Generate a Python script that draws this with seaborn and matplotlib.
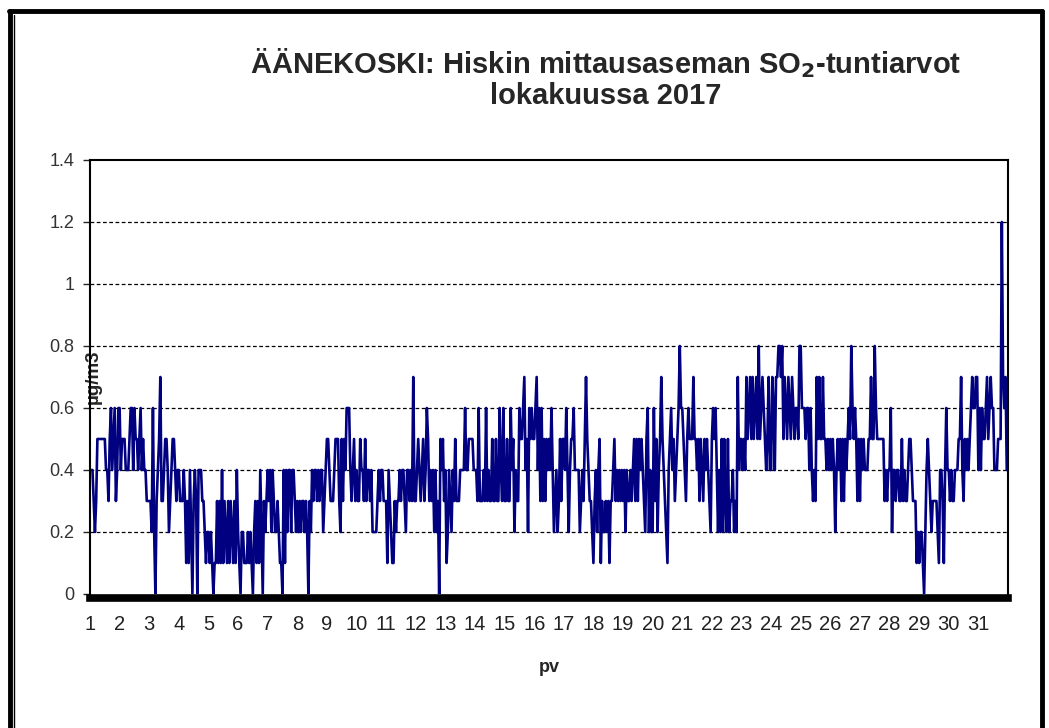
import numpy as np
import pandas as pd
import matplotlib
matplotlib.use("Agg")
import matplotlib.pyplot as plt
import seaborn as sns
from matplotlib.lines import Line2D

# SO2 hourly values (ug/m3), October 2017, 24 values per day
so2_values = [
    0.4, 0.4, 0.4, 0.3, 0.2, 0.3, 0.5, 0.5, 0.5, 0.5, 0.5, 0.5, 0.5, 0.4, 0.4, 0.3, 0.5, 0.6, 0.4, 0.5, 0.6, 0.3, 0.4, 0.6,
    0.6, 0.4, 0.5, 0.5, 0.5, 0.4, 0.4, 0.4, 0.5, 0.6, 0.6, 0.4, 0.6, 0.5, 0.5, 0.4, 0.5, 0.6, 0.4, 0.5, 0.4, 0.4, 0.3, 0.3,
    0.3, 0.3, 0.2, 0.6, 0.2, 0.0, 0.3, 0.4, 0.5, 0.7, 0.3, 0.3, 0.4, 0.5, 0.5, 0.4, 0.2, 0.3, 0.4, 0.5, 0.5, 0.4, 0.3, 0.4,
    0.4, 0.3, 0.3, 0.3, 0.4, 0.3, 0.1, 0.3, 0.1, 0.4, 0.2, 0.0, 0.3, 0.4, 0.3, 0.0, 0.4, 0.4, 0.4, 0.3, 0.3, 0.2, 0.1, 0.2,
    0.2, 0.1, 0.2, 0.1, 0.0, 0.1, 0.1, 0.3, 0.1, 0.3, 0.1, 0.4, 0.1, 0.3, 0.2, 0.1, 0.3, 0.1, 0.3, 0.2, 0.1, 0.3, 0.1, 0.4,
    0.2, 0.1, 0.0, 0.2, 0.2, 0.1, 0.1, 0.1, 0.2, 0.1, 0.2, 0.1, 0.0, 0.2, 0.3, 0.1, 0.3, 0.1, 0.4, 0.2, 0.0, 0.3, 0.2, 0.3,
    0.4, 0.3, 0.4, 0.2, 0.4, 0.3, 0.2, 0.2, 0.3, 0.2, 0.1, 0.1, 0.0, 0.4, 0.1, 0.4, 0.2, 0.4, 0.4, 0.2, 0.4, 0.4, 0.3, 0.2,
    0.3, 0.2, 0.3, 0.2, 0.3, 0.3, 0.2, 0.3, 0.2, 0.0, 0.3, 0.2, 0.4, 0.3, 0.4, 0.4, 0.3, 0.4, 0.3, 0.4, 0.4, 0.2, 0.3, 0.4,
    0.5, 0.5, 0.4, 0.3, 0.3, 0.3, 0.4, 0.5, 0.5, 0.5, 0.3, 0.2, 0.5, 0.3, 0.5, 0.4, 0.6, 0.6, 0.6, 0.4, 0.3, 0.4, 0.5, 0.3,
    0.4, 0.3, 0.3, 0.5, 0.4, 0.4, 0.3, 0.5, 0.3, 0.4, 0.4, 0.3, 0.4, 0.2, 0.2, 0.2, 0.2, 0.3, 0.4, 0.3, 0.4, 0.4, 0.3, 0.3,
    0.3, 0.1, 0.4, 0.3, 0.2, 0.1, 0.1, 0.3, 0.2, 0.3, 0.3, 0.4, 0.3, 0.4, 0.4, 0.3, 0.2, 0.4, 0.4, 0.3, 0.4, 0.3, 0.7, 0.3,
    0.3, 0.4, 0.5, 0.4, 0.3, 0.4, 0.5, 0.3, 0.4, 0.6, 0.5, 0.3, 0.4, 0.3, 0.4, 0.2, 0.4, 0.2, 0.3, 0.0, 0.5, 0.4, 0.5, 0.3,
    0.4, 0.1, 0.2, 0.4, 0.3, 0.2, 0.4, 0.3, 0.5, 0.3, 0.3, 0.3, 0.4, 0.4, 0.4, 0.4, 0.6, 0.4, 0.4, 0.5, 0.5, 0.5, 0.5, 0.4,
    0.4, 0.4, 0.3, 0.6, 0.3, 0.3, 0.3, 0.4, 0.3, 0.6, 0.3, 0.4, 0.3, 0.3, 0.5, 0.3, 0.3, 0.5, 0.3, 0.3, 0.6, 0.4, 0.3, 0.6,
    0.3, 0.3, 0.5, 0.3, 0.3, 0.6, 0.4, 0.5, 0.2, 0.4, 0.3, 0.3, 0.6, 0.5, 0.5, 0.6, 0.7, 0.4, 0.5, 0.2, 0.6, 0.5, 0.6, 0.5,
    0.5, 0.6, 0.7, 0.4, 0.6, 0.3, 0.6, 0.3, 0.5, 0.3, 0.5, 0.4, 0.5, 0.4, 0.6, 0.4, 0.2, 0.3, 0.4, 0.2, 0.3, 0.5, 0.3, 0.5,
    0.5, 0.4, 0.6, 0.4, 0.2, 0.4, 0.5, 0.5, 0.6, 0.4, 0.4, 0.4, 0.4, 0.2, 0.3, 0.4, 0.3, 0.5, 0.7, 0.5, 0.4, 0.3, 0.3, 0.2,
    0.1, 0.3, 0.4, 0.2, 0.4, 0.5, 0.1, 0.3, 0.2, 0.2, 0.3, 0.2, 0.3, 0.1, 0.3, 0.3, 0.4, 0.5, 0.3, 0.4, 0.3, 0.4, 0.3, 0.4,
    0.3, 0.4, 0.2, 0.4, 0.3, 0.3, 0.4, 0.3, 0.4, 0.5, 0.3, 0.5, 0.3, 0.5, 0.4, 0.5, 0.4, 0.3, 0.2, 0.5, 0.6, 0.2, 0.4, 0.2,
    0.2, 0.6, 0.3, 0.5, 0.2, 0.4, 0.5, 0.7, 0.5, 0.4, 0.3, 0.2, 0.1, 0.4, 0.5, 0.6, 0.4, 0.5, 0.3, 0.4, 0.5, 0.6, 0.8, 0.6,
    0.6, 0.5, 0.4, 0.3, 0.5, 0.6, 0.5, 0.5, 0.5, 0.7, 0.5, 0.5, 0.4, 0.5, 0.3, 0.5, 0.4, 0.3, 0.5, 0.4, 0.5, 0.4, 0.3, 0.2,
    0.5, 0.6, 0.5, 0.6, 0.4, 0.2, 0.4, 0.2, 0.5, 0.2, 0.5, 0.3, 0.2, 0.5, 0.2, 0.3, 0.3, 0.4, 0.2, 0.3, 0.2, 0.7, 0.4, 0.5,
    0.5, 0.4, 0.5, 0.4, 0.7, 0.5, 0.6, 0.7, 0.5, 0.7, 0.5, 0.6, 0.7, 0.5, 0.8, 0.5, 0.6, 0.7, 0.6, 0.5, 0.4, 0.5, 0.7, 0.4,
    0.4, 0.7, 0.6, 0.4, 0.7, 0.7, 0.8, 0.8, 0.7, 0.8, 0.5, 0.7, 0.6, 0.5, 0.7, 0.6, 0.5, 0.7, 0.6, 0.5, 0.6, 0.6, 0.5, 0.8,
    0.8, 0.6, 0.6, 0.6, 0.5, 0.6, 0.6, 0.4, 0.6, 0.4, 0.3, 0.4, 0.3, 0.7, 0.5, 0.7, 0.5, 0.5, 0.7, 0.5, 0.5, 0.4, 0.5, 0.4,
    0.5, 0.4, 0.5, 0.4, 0.2, 0.4, 0.5, 0.4, 0.5, 0.3, 0.5, 0.3, 0.5, 0.4, 0.5, 0.6, 0.5, 0.8, 0.6, 0.5, 0.6, 0.5, 0.3, 0.5,
    0.3, 0.5, 0.4, 0.5, 0.4, 0.4, 0.4, 0.5, 0.5, 0.7, 0.5, 0.5, 0.8, 0.6, 0.5, 0.5, 0.5, 0.5, 0.5, 0.5, 0.3, 0.4, 0.3, 0.4,
    0.4, 0.6, 0.2, 0.4, 0.4, 0.3, 0.4, 0.4, 0.3, 0.3, 0.5, 0.3, 0.4, 0.3, 0.3, 0.4, 0.5, 0.5, 0.4, 0.3, 0.3, 0.3, 0.1, 0.2,
    0.1, 0.2, 0.2, 0.1, 0.0, 0.2, 0.4, 0.5, 0.4, 0.3, 0.2, 0.3, 0.3, 0.3, 0.3, 0.2, 0.1, 0.4, 0.4, 0.3, 0.1, 0.4, 0.6, 0.4,
    0.4, 0.3, 0.4, 0.3, 0.3, 0.4, 0.4, 0.4, 0.5, 0.5, 0.7, 0.4, 0.3, 0.5, 0.4, 0.5, 0.4, 0.5, 0.6, 0.7, 0.6, 0.6, 0.7, 0.7,
    0.4, 0.6, 0.4, 0.6, 0.5, 0.5, 0.6, 0.7, 0.5, 0.6, 0.7, 0.6, 0.6, 0.4, 0.4, 0.4, 0.5, 0.5, 0.5, 1.2, 0.7, 0.6, 0.7, 0.4,
]
day_ticks = list(range(1, 32))
y_ticks = [0, 0.2, 0.4, 0.6, 0.8, 1.0, 1.2, 1.4]
y_tick_labels = ["0", "0.2", "0.4", "0.6", "0.8", "1", "1.2", "1.4"]

df = pd.DataFrame({"hour": np.arange(len(so2_values)), "so2": so2_values})
df["day"] = 1 + df["hour"] / 24.0

sns.set_style("white")
plt.rcParams["font.family"] = ["Liberation Sans", "DejaVu Sans"]

fig = plt.figure(figsize=(10.49, 7.28), dpi=100)
W, H = 1049, 728
ax = fig.add_axes([90 / W, (H - 594) / H, (1008 - 90) / W, (594 - 160) / H])

sns.lineplot(data=df, x="day", y="so2", color="#000080", linewidth=1.9, ax=ax)

ax.set_xlim(1, 1 + len(so2_values) / 24.0)
ax.set_ylim(0, 1.4)
ax.set_yticks(y_ticks)
ax.set_yticklabels(y_tick_labels)
ax.set_xticks(day_ticks)
ax.set_xticklabels([str(d) for d in day_ticks])
ax.tick_params(axis="y", direction="out", length=5, width=1, pad=6, left=True,
               labelsize=13, labelcolor="#333333")
ax.tick_params(axis="x", length=0, pad=12, labelsize=14.5, labelcolor="#222222")

# dashed gridlines
for yv in y_ticks[1:-1]:
    ax.axhline(yv, color="black", linestyle=(0, (3, 2)), linewidth=0.9, zorder=0)

for side in ["left", "top", "right"]:
    ax.spines[side].set_color("black")
    ax.spines[side].set_linewidth(1.5)
ax.spines["bottom"].set_color("black")
ax.spines["bottom"].set_linewidth(5.5)
ax.spines["bottom"].set_position(("outward", 3))

ax.set_xlabel("pv", fontsize=13, fontweight="bold", labelpad=18)
ax.set_ylabel("µg/m3", fontsize=13.5, fontweight="bold")
ax.yaxis.set_label_coords(0.013, 0.50)

fig.text(0.577, 0.893, "ÄÄNEKOSKI: Hiskin mittausaseman SO$_\\mathbf{2}$-tuntiarvot\nlokakuussa 2017",
         ha="center", va="center", fontsize=21, fontweight="bold", linespacing=1.1)

# outer frame
fig.add_artist(Line2D([10 / W, 10 / W], [0, (H - 11) / H], color="black", linewidth=3.5))
fig.add_artist(Line2D([14 / W, 14 / W], [0, (H - 15) / H], color="black", linewidth=1.0))
fig.add_artist(Line2D([9 / W, 1042 / W], [(H - 11) / H, (H - 11) / H], color="black", linewidth=3.5))
fig.add_artist(Line2D([1042 / W, 1042 / W], [0, (H - 11) / H], color="black", linewidth=3.5))

fig.savefig("out.png", dpi=100, facecolor="white")
